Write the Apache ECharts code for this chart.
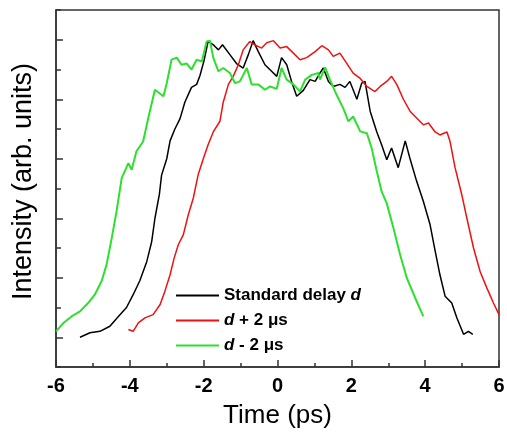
<!DOCTYPE html>
<html><head><meta charset="utf-8">
<script src="https://cdn.jsdelivr.net/npm/echarts@6/dist/echarts.min.js"></script>
<style>html,body{margin:0;padding:0;background:#fff}#c{width:507px;height:436px}</style>
</head><body><div id="c"></div>
<script>
// Time (ps) and intensity (normalized) for each curve
const blackT = [-5.35,-5.08,-4.81,-4.54,-4.31,-4.09,-3.91,-3.73,-3.54,-3.41,-3.32,-3.20,-3.14,-3.00,-2.91,-2.78,-2.64,-2.51,-2.33,-2.19,-2.10,-1.99,-1.88,-1.74,-1.60,-1.49,-1.29,-1.11,-0.93,-0.79,-0.66,-0.52,-0.34,-0.16,-0.02,0.11,0.25,0.38,0.52,0.70,0.88,1.02,1.15,1.24,1.38,1.51,1.69,1.83,1.96,2.15,2.28,2.37,2.51,2.69,2.82,2.96,3.09,3.27,3.46,3.59,3.77,3.95,4.13,4.27,4.40,4.54,4.72,4.86,5.04,5.17,5.29];
const blackV = [0,0.015,0.02,0.037,0.07,0.10,0.143,0.19,0.255,0.32,0.40,0.48,0.545,0.60,0.66,0.70,0.735,0.79,0.84,0.85,0.88,0.93,0.995,0.983,0.966,0.983,0.95,0.92,0.905,0.95,0.997,0.96,0.916,0.894,0.877,0.94,0.916,0.86,0.81,0.83,0.866,0.86,0.888,0.905,0.86,0.843,0.85,0.84,0.86,0.80,0.854,0.86,0.76,0.69,0.647,0.597,0.636,0.57,0.66,0.60,0.524,0.457,0.38,0.29,0.21,0.138,0.115,0.065,0.01,0.02,0.01];
const redT = [-4.04,-3.91,-3.77,-3.59,-3.37,-3.18,-3.05,-2.91,-2.80,-2.69,-2.55,-2.42,-2.28,-2.15,-2.01,-1.88,-1.74,-1.56,-1.47,-1.33,-1.20,-1.06,-0.93,-0.75,-0.61,-0.43,-0.29,-0.11,0.07,0.25,0.43,0.61,0.79,1.02,1.20,1.38,1.51,1.69,1.88,2.05,2.24,2.42,2.64,2.78,2.96,3.09,3.23,3.41,3.59,3.77,3.95,4.09,4.27,4.40,4.59,4.67,4.81,4.99,5.13,5.31,5.49,5.67,5.85,6.00];
const redV = [0.026,0.02,0.048,0.065,0.076,0.11,0.155,0.21,0.266,0.31,0.345,0.41,0.468,0.546,0.60,0.647,0.69,0.726,0.79,0.85,0.877,0.916,0.966,0.994,0.983,0.972,0.99,0.997,0.972,0.977,0.955,0.933,0.94,0.96,0.98,0.966,0.944,0.955,0.92,0.888,0.87,0.843,0.826,0.843,0.86,0.877,0.85,0.80,0.76,0.737,0.714,0.72,0.69,0.68,0.69,0.66,0.57,0.48,0.40,0.30,0.22,0.166,0.115,0.076];
const greenT = [-6.00,-5.80,-5.58,-5.35,-5.13,-4.95,-4.76,-4.63,-4.49,-4.36,-4.22,-4.04,-3.95,-3.82,-3.64,-3.50,-3.32,-3.09,-3.00,-2.87,-2.73,-2.60,-2.46,-2.33,-2.19,-2.05,-1.92,-1.83,-1.74,-1.60,-1.47,-1.29,-1.15,-1.02,-0.83,-0.70,-0.52,-0.34,-0.20,-0.02,0.11,0.25,0.43,0.61,0.75,0.93,1.11,1.15,1.29,1.42,1.60,1.78,1.92,2.05,2.24,2.42,2.55,2.69,2.82,2.96,3.14,3.32,3.50,3.73,3.95];
const greenV = [0.02,0.048,0.07,0.087,0.115,0.143,0.19,0.244,0.333,0.423,0.535,0.585,0.563,0.625,0.658,0.737,0.832,0.81,0.854,0.933,0.94,0.916,0.92,0.90,0.933,0.927,0.994,0.997,0.94,0.894,0.905,0.888,0.854,0.86,0.905,0.85,0.85,0.832,0.843,0.835,0.905,0.866,0.85,0.826,0.866,0.882,0.888,0.866,0.907,0.866,0.815,0.77,0.726,0.742,0.692,0.686,0.636,0.558,0.49,0.45,0.367,0.278,0.20,0.132,0.07];
const seriesNames = ['Standard delay d', 'd + 2 μs', 'd - 2 μs'];
const xTicks = [-6,-4,-2,0,2,4,6];
// y tick positions from -0.1 to 1.1 in steps of 0.1 (major ones: 0, 0.2, ..., 1.0)
const yTickCats = ['-0.1','0','0.1','0.2','0.3','0.4','0.5','0.6','0.7','0.8','0.9','1.0','1.1'];
const yMajor = ['0','0.2','0.4','0.6','0.8','1.0'];

const zip = (a,b) => a.map((t,i)=>[t,b[i]]);
const chart = echarts.init(document.getElementById('c'), null, {renderer:'canvas'});
const font = '"Liberation Sans", Arial, sans-serif';
const richLegend = {
  b:{fontFamily:font,fontWeight:'bold',fontSize:17,color:'#000',lineHeight:17},
  i:{fontFamily:font,fontWeight:'bold',fontStyle:'italic',fontSize:17,color:'#000',lineHeight:17},
  m:{fontFamily:font,fontWeight:'bold',fontSize:17,color:'#000',lineHeight:17}
};
const legendFmt = {
  'Standard delay d':'{b|Standard delay }{i|d}',
  'd + 2 μs':'{i|d}{b| + 2 }{m|μs}',
  'd - 2 μs':'{i|d}{b| - 2 }{m|μs}'
};
const mk = (name, t, v, color, w) => ({
  name, type:'line', data: zip(t,v), showSymbol:false, symbol:'none',
  lineStyle:{color, width:w}, itemStyle:{color}, animation:false, z: 3
});
const axCol = '#333';
chart.setOption({
  backgroundColor:'#fff',
  animation:false,
  grid:{left:56,right:8,top:10,bottom:69,show:true,borderColor:axCol,borderWidth:1.5,
        backgroundColor:'transparent',containLabel:false,outerBoundsMode:'none'},
  legend:{
    show:true, orient:'vertical', left:176, top:287, padding:0,
    itemWidth:43, itemHeight:2, itemGap:8, icon:'rect',
    data: seriesNames, formatter: n => legendFmt[n],
    textStyle:{fontFamily:font,fontWeight:'bold',fontSize:17,color:'#000',rich:richLegend}
  },
  xAxis:{
    type:'value', min:-6, max:6, interval:2,
    axisLine:{show:true,onZero:false,lineStyle:{color:axCol,width:1.5}},
    axisTick:{show:true,inside:true,length:7,lineStyle:{color:axCol,width:1.5}},
    minorTick:{show:true,splitNumber:2,length:4,lineStyle:{color:axCol,width:1.5}},
    splitLine:{show:false},
    axisLabel:{fontFamily:font,fontWeight:'bold',fontSize:20,color:'#000',margin:9,
      formatter: v => xTicks.includes(v) ? String(v) : ''},
    name:'Time (ps)', nameLocation:'middle', nameGap:36,
    nameTextStyle:{fontFamily:font,fontSize:26,color:'#000'}
  },
  yAxis:[{
    type:'value', min:-0.1, max:1.1, interval:0.1,
    axisLine:{show:true,onZero:false,lineStyle:{color:axCol,width:1.5}},
    axisTick:{show:true,inside:true,length:5,lineStyle:{color:axCol,width:1.5}},
    splitLine:{show:false},
    axisLabel:{show:false},
    name:'Intensity (arb. units)', nameLocation:'middle', nameGap:19,
    nameTextStyle:{fontFamily:font,fontSize:27,color:'#000',padding:[0,0,0,14]}
  },{
    type:'category', data: yTickCats, boundaryGap:false, position:'left',
    axisLine:{show:false,onZero:false},
    axisTick:{show:true,inside:true,length:7,alignWithLabel:true,
      interval:(i,v)=>yMajor.includes(v), lineStyle:{color:axCol,width:1.5}},
    axisLabel:{show:false}, splitLine:{show:false}
  }],
  series:[
    mk(seriesNames[0], blackT, blackV, '#000000', 1.5),
    mk(seriesNames[1], redT, redV, '#ee1111', 1.5),
    mk(seriesNames[2], greenT, greenV, '#2ee02e', 2)
  ]
});
</script></body></html>
